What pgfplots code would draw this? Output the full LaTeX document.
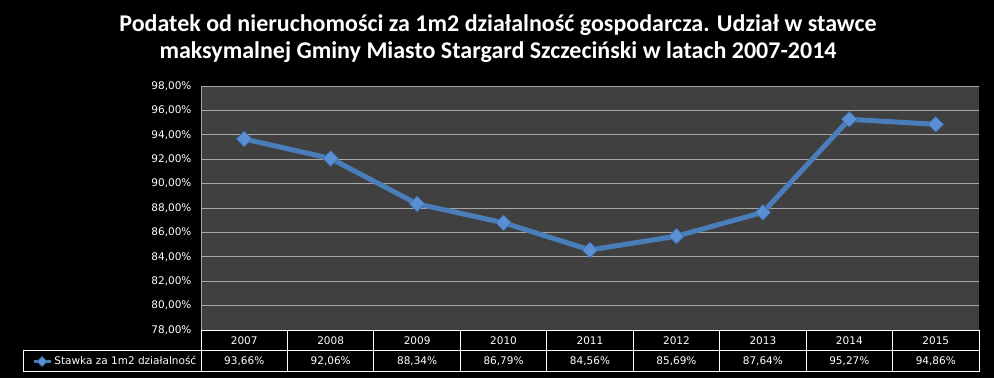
\documentclass[border=0pt]{standalone}
\usepackage{pgfplots}
\pgfplotsset{compat=1.18}
\usepackage{fontspec}
\setmainfont{Carlito}
\newfontfamily\tabfont{DejaVu Sans}
\definecolor{plotbg}{HTML}{404040}
\definecolor{gridc}{HTML}{A6A6A6}
\definecolor{lineblue}{HTML}{4A7EBB}
\definecolor{markfill}{HTML}{5B8FD4}
\definecolor{markdraw}{HTML}{3A6AAA}
\begin{document}
\begin{tikzpicture}
\fill[black] (0pt,0pt) rectangle (994pt,378pt);
\path[use as bounding box] (0pt,0pt) rectangle (994pt,378pt);
\node[text=white, font=\bfseries\fontsize{24}{27}\selectfont, align=center] at (498pt,339pt)
  {Podatek od nieruchomości za 1m2 działalność gospodarcza. Udział w stawce\\maksymalnej Gminy Miasto Stargard Szczeciński w latach 2007-2014};
\begin{axis}[
  at={(201pt,48pt)}, anchor=south west, scale only axis,
  width=778pt, height=244pt,
  xmin=0.5, xmax=9.5, ymin=78, ymax=98,
  ytick={78,80,...,98}, xtick=\empty,
  ymajorgrids, grid style={gridc, line width=0.9pt},
  axis background/.style={fill=plotbg},
  axis line style={draw=none},
  major tick length=0pt,
  /pgf/number format/assume math mode=true,
  yticklabel={\pgfmathprintnumber[fixed,fixed zerofill,precision=2,use comma]{\tick}\%},
  yticklabel style={text=white, font=\tabfont\fontsize{10.5}{12}\selectfont, xshift=-6pt},
  legend style={at={(-0.002,-0.129)}, anchor=east, draw=none, fill=none,
    text=white, font=\tabfont\fontsize{10.5}{12}\selectfont, inner sep=1pt},
  legend image post style={line width=3.5pt, mark size=3.5pt},
  clip=false,
]
\draw[gridc, line width=0.9pt] (rel axis cs:0,0) -- (rel axis cs:0,1);
\addplot[lineblue, line width=5pt, mark=square*, mark size=5.5pt,
  mark options={rotate=45, fill=markfill, draw=markdraw, line width=0.6pt}]
  coordinates {(1,93.66) (2,92.06) (3,88.34) (4,86.79) (5,84.56) (6,85.69) (7,87.64) (8,95.27) (9,94.86)};
\addlegendentry{Stawka za 1m2 działalność}
\end{axis}
\begin{axis}[
  at={(201pt,7pt)}, anchor=south west, scale only axis,
  width=778pt, height=41pt,
  xmin=0.5, xmax=9.5, ymin=0, ymax=2,
  xtick={0.5,1.5,...,9.5}, ytick={0,1,2},
  xticklabels={}, yticklabels={},
  grid=major, grid style={white, line width=0.9pt},
  axis line style={white, line width=0.9pt},
  major tick length=0pt,
  nodes near coords, point meta=explicit symbolic,
  nodes near coords align={center},
  every node near coord/.append style={text=white, font=\tabfont\fontsize{10.5}{12}\selectfont},
]
\addplot[draw=none] coordinates {(1,1.5)[2007] (2,1.5)[2008] (3,1.5)[2009] (4,1.5)[2010] (5,1.5)[2011] (6,1.5)[2012] (7,1.5)[2013] (8,1.5)[2014] (9,1.5)[2015]};
\addplot[draw=none] coordinates {(1,0.5)[93,66\%] (2,0.5)[92,06\%] (3,0.5)[88,34\%] (4,0.5)[86,79\%] (5,0.5)[84,56\%] (6,0.5)[85,69\%] (7,0.5)[87,64\%] (8,0.5)[95,27\%] (9,0.5)[94,86\%]};
\end{axis}
\draw[white, line width=0.9pt] (23pt,7pt) rectangle (201pt,27.5pt);
\end{tikzpicture}
\end{document}
